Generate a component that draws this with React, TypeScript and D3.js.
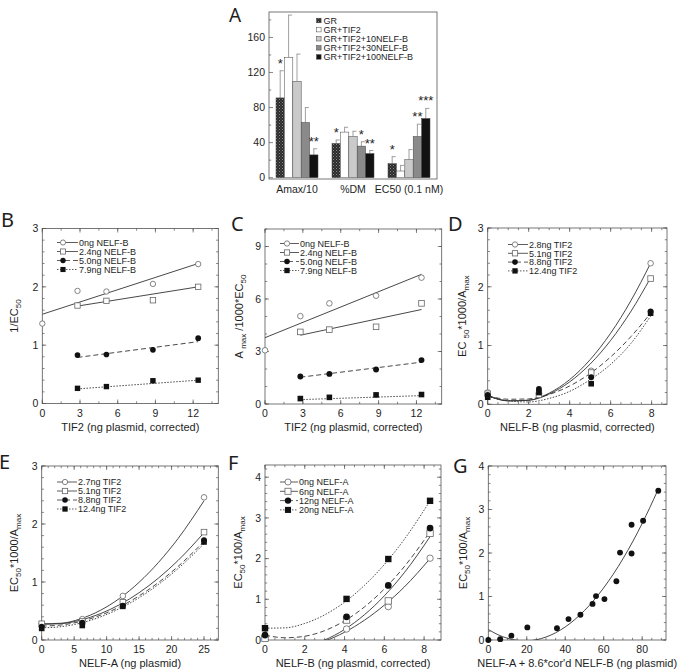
import React from 'react';
import * as d3ns from 'd3';

const d3: any = (d3ns as any).scaleLinear ? d3ns : ((d3ns as any).default || d3ns);

type Pt = [number, number];

// ---------------- Panel A data ----------------
const barGroups = ['Amax/10', '%DM', 'EC50 (0.1 nM)'];
const barSeries = ['GR', 'GR+TIF2', 'GR+TIF2+10NELF-B', 'GR+TIF2+30NELF-B', 'GR+TIF2+100NELF-B'];
const barGR = [91, 39, 16];
const barTIF2 = [137, 52, 7.6];
const bar10 = [110, 47, 20.5];
const bar30 = [63, 36, 47];
const bar100 = [26, 27.5, 67.5];
const errGR = [122, 43, 24];
const errTIF2 = [185.5, 57.5, 14];
const err10 = [141, 53, 32];
const err30 = [80, 41, 61];
const err100 = [33, 31, 79];
const aTicks = [0, 40, 80, 120, 160];
const starGroup = [0, 0, 1, 1, 1, 2, 2, 2];
const starSeries = [0, 4, 0, 3, 4, 0, 3, 4];
const starText = ['*', '**', '*', '*', '**', '*', '**', '***'];

// ---------------- Panel B data ----------------
const bNames = ['0ng NELF-B', '2.4ng NELF-B', '5.0ng NELF-B', '7.9ng NELF-B'];
const b0: Pt[] = [[0, 1.37], [2.8, 1.93], [5.1, 1.92], [8.8, 2.05], [12.4, 2.39]];
const b1: Pt[] = [[2.8, 1.68], [5.1, 1.76], [8.8, 1.77], [12.4, 2.0]];
const b2: Pt[] = [[2.8, 0.83], [5.1, 0.84], [8.8, 0.92], [12.4, 1.12]];
const b3: Pt[] = [[2.8, 0.26], [5.1, 0.29], [8.8, 0.39], [12.4, 0.4]];
const bFit0: Pt[] = [[0, 1.53], [12.4, 2.4]];
const bFit1: Pt[] = [[2.8, 1.67], [12.4, 2.0]];
const bFit2: Pt[] = [[2.8, 0.79], [12.4, 1.06]];
const bFit3: Pt[] = [[2.8, 0.25], [12.4, 0.4]];

// ---------------- Panel C data ----------------
const c0: Pt[] = [[0, 3.07], [2.8, 5.02], [5.1, 5.75], [8.8, 6.19], [12.4, 7.22]];
const c1: Pt[] = [[2.8, 4.12], [5.1, 4.25], [8.8, 4.41], [12.4, 5.75]];
const c2: Pt[] = [[2.8, 1.57], [5.1, 1.72], [8.8, 1.97], [12.4, 2.51]];
const c3: Pt[] = [[2.8, 0.31], [5.1, 0.38], [8.8, 0.52], [12.4, 0.54]];
const cFit0: Pt[] = [[0, 3.79], [12.4, 7.41]];
const cFit1: Pt[] = [[2.8, 3.93], [12.4, 5.4]];
const cFit2: Pt[] = [[2.8, 1.53], [12.4, 2.39]];
const cFit3: Pt[] = [[2.8, 0.25], [12.4, 0.48]];

// ---------------- Panel D data ----------------
const dNames = ['2.8ng TIF2', '5.1ng TIF2', '8.8ng TIF2', '12.4ng TIF2'];
const d0: Pt[] = [[0, 0.2], [2.5, 0.18], [5.05, 0.57], [7.95, 2.4]];
const d1: Pt[] = [[0, 0.18], [2.5, 0.16], [5.05, 0.54], [7.95, 2.14]];
const d2: Pt[] = [[0, 0.16], [2.5, 0.26], [5.05, 0.46], [7.95, 1.58]];
const d3p: Pt[] = [[0, 0.12], [2.5, 0.2], [5.05, 0.35], [7.95, 1.55]];
const dFit0: Pt[] = [[0, 0.157], [1, 0.059], [2, 0.07], [3, 0.19], [4, 0.42], [5, 0.76], [6, 1.21], [7, 1.77], [7.95, 2.4]];
const dFit1: Pt[] = [[0, 0.146], [1, 0.058], [2, 0.068], [3, 0.175], [4, 0.381], [5, 0.685], [6, 1.087], [7, 1.587], [7.95, 2.152]];
const dFit2: Pt[] = [[0, 0.147], [1, 0.086], [2, 0.092], [3, 0.168], [4, 0.312], [5, 0.525], [6, 0.806], [7, 1.156], [7.95, 1.551]];
const dFit3: Pt[] = [[0, 0.13], [1, 0.06], [2, 0.04], [3, 0.1], [4, 0.22], [5, 0.42], [6, 0.68], [7, 1.04], [7.95, 1.5]];

// ---------------- Panel E data ----------------
const eNames = ['2.7ng TIF2', '5.1ng TIF2', '8.8ng TIF2', '12.4ng TIF2'];
const e0: Pt[] = [[0, 0.28], [6.25, 0.36], [12.5, 0.76], [25, 2.46]];
const e1: Pt[] = [[0, 0.28], [6.25, 0.32], [12.5, 0.65], [25, 1.86]];
const e2: Pt[] = [[0, 0.23], [6.25, 0.3], [12.5, 0.59], [25, 1.72]];
const e3: Pt[] = [[0, 0.2], [6.25, 0.25], [12.5, 0.58], [25, 1.69]];
const eFit0: Pt[] = [[0, 0.28], [3, 0.289], [6, 0.366], [9, 0.509], [12, 0.718], [15, 0.995], [18, 1.339], [21, 1.749], [25, 2.4]];
const eFit1: Pt[] = [[0, 0.27], [3, 0.282], [6, 0.343], [9, 0.452], [12, 0.609], [15, 0.815], [18, 1.069], [21, 1.371], [25, 1.85]];
const eFit2: Pt[] = [[0, 0.24], [3, 0.259], [6, 0.32], [9, 0.425], [12, 0.571], [15, 0.761], [18, 0.993], [21, 1.268], [25, 1.7]];
const eFit3: Pt[] = [[0, 0.21], [3, 0.23], [6, 0.292], [9, 0.396], [12, 0.542], [15, 0.729], [18, 0.96], [21, 1.232], [25, 1.66]];

// ---------------- Panel F data ----------------
const fNames = ['0ng NELF-A', '6ng NELF-A', '12ng NELF-A', '20ng NELF-A'];
const f0: Pt[] = [[0, 0.08], [4.1, 0.27], [6.2, 0.82], [8.3, 2.01]];
const f1: Pt[] = [[0, 0.04], [4.1, 0.49], [6.2, 0.96], [8.3, 2.62]];
const f2: Pt[] = [[0, 0.12], [4.1, 0.57], [6.2, 1.34], [8.3, 2.75]];
const f3: Pt[] = [[0, 0.29], [4.1, 1.01], [6.2, 1.99], [8.3, 3.42]];
const fFit0: Pt[] = [[2, -0.17], [3, -0.028], [4, 0.19], [5, 0.486], [6, 0.857], [7, 1.3], [8.3, 2.0]];
const fFit1: Pt[] = [[2, -0.157], [3, 0], [4, 0.259], [5, 0.621], [6, 1.085], [7, 1.651], [8.3, 2.54]];
const fFit2: Pt[] = [[0, 0.12], [1, 0.055], [2, 0.092], [3, 0.23], [4, 0.47], [5, 0.812], [6, 1.255], [7, 1.8], [8.3, 2.66]];
const fFit3: Pt[] = [[0, 0.29], [1, 0.298], [2, 0.407], [3, 0.618], [4, 0.929], [5, 1.342], [6, 1.855], [7, 2.47], [8.3, 3.42]];

// ---------------- Panel G data ----------------
const gPts: Pt[] = [[0, 0], [6.2, 0.02], [12, 0.1], [20.3, 0.29], [35.7, 0.27], [41.7, 0.48], [47.9, 0.58], [54.2, 0.83], [56, 1.01], [60.4, 0.94], [66.6, 1.35], [68.5, 2.01], [74.5, 2.65], [74.5, 1.99], [80.5, 2.74], [88.4, 3.43]];
const gFit: Pt[] = [[0, 0.242], [5, 0.122], [10, 0.039], [15, -0.008], [20, -0.019], [25, 0.006], [30, 0.068], [40, 0.3], [50, 0.677], [60, 1.199], [70, 1.866], [80, 2.678], [88, 3.43]];

const FONT = "'Liberation Sans', Arial, Helvetica, sans-serif";
const LFONT = "'Noto Sans', 'Open Sans', sans-serif";
const INK = '#1e1e1e';
const LEG_FS = 9;

function linear(dom: [number, number], rng: [number, number]): (v: number) => number {
  if (d3 && typeof d3.scaleLinear === 'function') return d3.scaleLinear().domain(dom).range(rng);
  return (v: number) => rng[0] + ((v - dom[0]) / (dom[1] - dom[0])) * (rng[1] - rng[0]);
}

function pathOf(pts: Pt[], x: (v: number) => number, y: (v: number) => number, smooth: boolean): string {
  if (d3 && typeof d3.line === 'function') {
    const l = d3.line().x((d: Pt) => x(d[0])).y((d: Pt) => y(d[1]));
    if (smooth && d3.curveMonotoneX) l.curve(d3.curveMonotoneX);
    return l(pts) || '';
  }
  const P = pts.map(p => [x(p[0]), y(p[1])]);
  if (!smooth || P.length < 3) return 'M' + P.map(p => p.join(',')).join('L');
  let d = `M${P[0][0]},${P[0][1]}`;
  for (let i = 0; i < P.length - 1; i++) {
    const p0 = P[i - 1] || P[i], p1 = P[i], p2 = P[i + 1], p3 = P[i + 2] || p2;
    const c1 = [p1[0] + (p2[0] - p0[0]) / 6, p1[1] + (p2[1] - p0[1]) / 6];
    const c2 = [p2[0] - (p3[0] - p1[0]) / 6, p2[1] - (p3[1] - p1[1]) / 6];
    d += `C${c1[0]},${c1[1]} ${c2[0]},${c2[1]} ${p2[0]},${p2[1]}`;
  }
  return d;
}

interface Ser { name?: string; pts: Pt[]; fit: Pt[]; marker: string; dash: string; }
interface Cfg {
  id: string; letter: string; lx: number; ly: number;
  x0: number; x1: number; y0: number; y1: number;
  xDom: [number, number]; yDom: [number, number];
  xTicks: number[]; xMinorStep: number; yTicks: number[]; yMinorStep: number;
  series: Ser[]; legend?: { x: number; y: number; dy: number; len: number; mk: number };
  xTitle: string; yTitle: React.ReactNode; yTitleX: number; ms: number; smooth: boolean;
}

function steps(a: number, b: number, s: number): number[] {
  const out: number[] = [];
  for (let i = 0; a + i * s <= b + 1e-9; i++) out.push(a + i * s);
  return out;
}

function Marker({ type, x, y, s }: { type: string; x: number; y: number; s: number }) {
  if (type === 'oc') return <circle cx={x} cy={y} r={s} fill="#fff" stroke="#666" strokeWidth={0.8} />;
  if (type === 'os') return <rect x={x - s} y={y - s} width={2 * s} height={2 * s} fill="#fff" stroke="#666" strokeWidth={0.8} />;
  if (type === 'fc') return <circle cx={x} cy={y} r={s * 1.05} fill="#111" />;
  return <rect x={x - s} y={y - s} width={2 * s} height={2 * s} fill="#111" />;
}

function Panel({ c }: { c: Cfg }) {
  const x = linear(c.xDom, [c.x0, c.x1]);
  const y = linear(c.yDom, [c.y1, c.y0]);
  const xMinor = steps(c.xDom[0], c.xDom[1], c.xMinorStep);
  const yMinor = steps(c.yDom[0], c.yDom[1], c.yMinorStep);
  const tick = (v: number, maj: boolean, axis: 'x' | 'y', k: string) => {
    const L = maj ? 4 : 2.2;
    if (axis === 'x') {
      const px = x(v);
      return <g key={k}>
        <line x1={px} x2={px} y1={c.y1} y2={c.y1 - L} stroke="#555" strokeWidth={0.7} />
        <line x1={px} x2={px} y1={c.y0} y2={c.y0 + L} stroke="#555" strokeWidth={0.7} />
      </g>;
    }
    const py = y(v);
    return <g key={k}>
      <line x1={c.x0} x2={c.x0 + L} y1={py} y2={py} stroke="#555" strokeWidth={0.7} />
      <line x1={c.x1} x2={c.x1 - L} y1={py} y2={py} stroke="#555" strokeWidth={0.7} />
    </g>;
  };
  const order = ['oc', 'os', 'fc', 'fs'];
  return (
    <g>
      <defs>
        <clipPath id={'clip' + c.id}><rect x={c.x0} y={c.y0} width={c.x1 - c.x0} height={c.y1 - c.y0} /></clipPath>
      </defs>
      {xMinor.map((v, i) => tick(v, false, 'x', 'xm' + i))}
      {c.xTicks.map((v, i) => tick(v, true, 'x', 'xM' + i))}
      {yMinor.map((v, i) => tick(v, false, 'y', 'ym' + i))}
      {c.yTicks.map((v, i) => tick(v, true, 'y', 'yM' + i))}
      <rect x={c.x0} y={c.y0} width={c.x1 - c.x0} height={c.y1 - c.y0} fill="none" stroke="#555" strokeWidth={0.8} />
      {c.xTicks.map((v, i) => (
        <text key={'xl' + i} x={x(v)} y={c.y1 + 13} textAnchor="middle" fontSize={10.5} fontFamily={FONT} fill={INK}>{v}</text>
      ))}
      {c.yTicks.map((v, i) => (
        <text key={'yl' + i} x={c.x0 - 4} y={y(v) + 3.8} textAnchor="end" fontSize={10.5} fontFamily={FONT} fill={INK}>{v}</text>
      ))}
      <g clipPath={`url(#clip${c.id})`}>
        {c.series.map((s, i) => (
          <path key={'f' + i} d={pathOf(s.fit, x, y, c.smooth)} fill="none" stroke="#333" strokeWidth={0.9} strokeDasharray={s.dash} />
        ))}
      </g>
      {order.map(m => c.series.filter(s => s.marker === m).map((s, i) =>
        s.pts.map((p, j) => <Marker key={m + i + '_' + j} type={s.marker} x={x(p[0])} y={y(p[1])} s={c.ms} />)
      ))}
      {c.legend && c.series.map((s, i) => {
        const L = c.legend!;
        const yy = L.y + i * L.dy;
        return <g key={'lg' + i}>
          <line x1={L.x} x2={L.x + L.len} y1={yy} y2={yy} stroke="#333" strokeWidth={0.8} strokeDasharray={s.dash} />
          <Marker type={s.marker} x={L.x + L.mk} y={yy} s={c.ms * 0.95} />
          <text x={L.x + L.len + 1} y={yy + 3.2} fontSize={LEG_FS} fontFamily={FONT} fill={INK}>{s.name}</text>
        </g>;
      })}
      <text x={(c.x0 + c.x1) / 2} y={c.y1 + 27} textAnchor="middle" fontSize={11} fontFamily={FONT} fill={INK}>{c.xTitle}</text>
      <text transform={`translate(${c.yTitleX},${(c.y0 + c.y1) / 2}) rotate(-90)`} textAnchor="middle" fontSize={11} fontFamily={FONT} fill={INK}>{c.yTitle}</text>
      <text x={c.lx} y={c.ly} fontSize={20} fontFamily={LFONT} fill={INK}>{c.letter}</text>
    </g>
  );
}

const sub = (t: string) => <tspan fontSize={8} dy={2.5}>{t}</tspan>;
const up = (t: string) => <tspan dy={-2.5}>{t}</tspan>;

function BarPanel() {
  const x0 = 269, x1 = 437, yTop = 12, yBot = 179;
  const step = (x1 - x0) / barGroups.length;
  const bandW = step * 0.75;
  const gx = linear([0, barGroups.length - 1], [x0 + 0.125 * step, x0 + 0.125 * step + (barGroups.length - 1) * step]);
  const sx = linear([0, barSeries.length], [0, bandW]);
  const subW = bandW / barSeries.length;
  const y = linear([-1.5, 189], [yBot, yTop]);
  const vals = [barGR, barTIF2, bar10, bar30, bar100];
  const errs = [errGR, errTIF2, err10, err30, err100];
  const fills = ['url(#grPat)', '#ffffff', '#cacaca', '#8a8a8a', '#121212'];
  const minor = steps(0, 180, 20);
  return (
    <g>
      <defs>
        <pattern id="grPat" width={3} height={3} patternUnits="userSpaceOnUse">
          <rect width={3} height={3} fill="#2b2b2b" />
          <rect x={0} y={0} width={1} height={1} fill="#8a8a8a" />
          <rect x={1.5} y={1.5} width={1} height={1} fill="#6a6a6a" />
        </pattern>
      </defs>
      {minor.map((v, i) => (
        <line key={'am' + i} x1={x0} x2={x0 + (v % 40 === 0 ? 4 : 2.2)} y1={y(v)} y2={y(v)} stroke="#555" strokeWidth={0.7} />
      ))}
      {barSeries.map((s, si) => barGroups.map((g, gi) => {
        const bx = gx(gi) + sx(si);
        const cx = bx + subW / 2;
        return <g key={s + g}>
          <line x1={cx} x2={cx} y1={y(vals[si][gi])} y2={y(errs[si][gi])} stroke="#888" strokeWidth={0.8} />
          <line x1={cx - 0.5} x2={cx + 3.5} y1={y(errs[si][gi])} y2={y(errs[si][gi])} stroke="#888" strokeWidth={0.8} />
          <rect x={bx} y={y(vals[si][gi])} width={subW} height={y(0) - y(vals[si][gi])} fill={fills[si]} stroke="#444" strokeWidth={0.5} />
        </g>;
      }))}
      <rect x={x0} y={yTop} width={x1 - x0} height={yBot - yTop} fill="none" stroke="#555" strokeWidth={0.8} />
      {aTicks.map((v, i) => (
        <text key={'at' + i} x={x0 - 4} y={y(v) + 3.8} textAnchor="end" fontSize={10.5} fontFamily={FONT} fill={INK}>{v}</text>
      ))}
      {barGroups.map((g, i) => (
        <text key={'ag' + i} x={gx(i) + bandW / 2} y={193} textAnchor="middle" fontSize={10.5} fontFamily={FONT} fill={INK}>{g}</text>
      ))}
      {starText.map((t, i) => {
        const cx = gx(starGroup[i]) + sx(starSeries[i]) + subW / 2;
        const top = y(errs[starSeries[i]][starGroup[i]]);
        return <text key={'st' + i} x={cx} y={top - 3} textAnchor="middle" fontSize={13} fontFamily={FONT} fill={INK}>{t}</text>;
      })}
      {barSeries.map((s, i) => (
        <g key={'al' + i}>
          <rect x={316.5} y={18.2 + i * 9.1} width={4.6} height={4.6} fill={fills[i]} stroke="#444" strokeWidth={0.5} />
          <text x={323.5} y={23.8 + i * 9.1} fontSize={9} fontFamily={FONT} fill={INK}>{s}</text>
        </g>
      ))}
      <text x={229} y={22} fontSize={19} fontFamily={LFONT} fill={INK}>A</text>
    </g>
  );
}

const panels: Cfg[] = [
  {
    id: 'B', letter: 'B', lx: 1, ly: 227, x0: 42.3, x1: 218.3, y0: 228.5, y1: 403.5,
    xDom: [0, 14], yDom: [0, 3], xTicks: [0, 3, 6, 9, 12], xMinorStep: 1.5, yTicks: [0, 1, 2, 3], yMinorStep: 0.2,
    series: [
      { name: bNames[0], pts: b0, fit: bFit0, marker: 'oc', dash: '' },
      { name: bNames[1], pts: b1, fit: bFit1, marker: 'os', dash: '' },
      { name: bNames[2], pts: b2, fit: bFit2, marker: 'fc', dash: '5,3' },
      { name: bNames[3], pts: b3, fit: bFit3, marker: 'fs', dash: '1.5,1.5' },
    ],
    legend: { x: 57, y: 242.5, dy: 9, len: 21, mk: 6 },
    xTitle: 'TIF2 (ng plasmid, corrected)', yTitle: <>1/EC{sub('50')}</>, yTitleX: 18, ms: 2.7, smooth: false,
  },
  {
    id: 'C', letter: 'C', lx: 231, ly: 231, x0: 265, x1: 441.7, y0: 229, y1: 404,
    xDom: [0, 14], yDom: [0, 10], xTicks: [0, 3, 6, 9, 12], xMinorStep: 1.5, yTicks: [0, 3, 6, 9], yMinorStep: 1,
    series: [
      { name: bNames[0], pts: c0, fit: cFit0, marker: 'oc', dash: '' },
      { name: bNames[1], pts: c1, fit: cFit1, marker: 'os', dash: '' },
      { name: bNames[2], pts: c2, fit: cFit2, marker: 'fc', dash: '5,3' },
      { name: bNames[3], pts: c3, fit: cFit3, marker: 'fs', dash: '1.5,1.5' },
    ],
    legend: { x: 280, y: 243.5, dy: 9, len: 19, mk: 7 },
    xTitle: 'TIF2 (ng plasmid, corrected)', yTitle: <>A{sub(' max')}{up(' /1000*EC')}{sub('50')}</>, yTitleX: 243, ms: 2.8, smooth: false,
  },
  {
    id: 'D', letter: 'D', lx: 448, ly: 231, x0: 487.7, x1: 667, y0: 228, y1: 404.3,
    xDom: [0, 8.75], yDom: [0, 3], xTicks: [0, 2, 4, 6, 8], xMinorStep: 0.5, yTicks: [0, 1, 2, 3], yMinorStep: 0.2,
    series: [
      { name: dNames[0], pts: d0, fit: dFit0, marker: 'oc', dash: '' },
      { name: dNames[1], pts: d1, fit: dFit1, marker: 'os', dash: '' },
      { name: dNames[2], pts: d2, fit: dFit2, marker: 'fc', dash: '5,3' },
      { name: dNames[3], pts: d3p, fit: dFit3, marker: 'fs', dash: '1.5,1.5' },
    ],
    legend: { x: 508, y: 244.5, dy: 8.8, len: 20, mk: 7 },
    xTitle: 'NELF-B (ng plasmid, corrected)', yTitle: <>EC {sub('50')}{up('*1000/A')}{sub('max')}</>, yTitleX: 466, ms: 2.8, smooth: true,
  },
  {
    id: 'E', letter: 'E', lx: -1, ly: 469, x0: 41.7, x1: 218.3, y0: 466, y1: 640,
    xDom: [0, 27.2], yDom: [0, 3], xTicks: [0, 5, 10, 15, 20, 25], xMinorStep: 1, yTicks: [0, 1, 2, 3], yMinorStep: 0.2,
    series: [
      { name: eNames[0], pts: e0, fit: eFit0, marker: 'oc', dash: '' },
      { name: eNames[1], pts: e1, fit: eFit1, marker: 'os', dash: '' },
      { name: eNames[2], pts: e2, fit: eFit2, marker: 'fc', dash: '5,3' },
      { name: eNames[3], pts: e3, fit: eFit3, marker: 'fs', dash: '1.5,1.5' },
    ],
    legend: { x: 57, y: 482, dy: 9, len: 20, mk: 8 },
    xTitle: 'NELF-A (ng plasmid)', yTitle: <>EC{sub('50')}{up('*1000/A')}{sub('max')}</>, yTitleX: 18, ms: 2.8, smooth: true,
  },
  {
    id: 'F', letter: 'F', lx: 228, ly: 470, x0: 265, x1: 441, y0: 465, y1: 640,
    xDom: [0, 8.85], yDom: [0, 4.3], xTicks: [0, 2, 4, 6, 8], xMinorStep: 0.5, yTicks: [0, 1, 2, 3, 4], yMinorStep: 0.2,
    series: [
      { name: fNames[0], pts: f0, fit: fFit0, marker: 'oc', dash: '' },
      { name: fNames[1], pts: f1, fit: fFit1, marker: 'os', dash: '' },
      { name: fNames[2], pts: f2, fit: fFit2, marker: 'fc', dash: '5,3' },
      { name: fNames[3], pts: f3, fit: fFit3, marker: 'fs', dash: '1.5,1.5' },
    ],
    legend: { x: 280, y: 482, dy: 9.3, len: 18, mk: 8 },
    xTitle: 'NELF-B (ng plasmid, corrected)', yTitle: <>EC{sub('50')}{up('*100/A')}{sub('max')}</>, yTitleX: 242, ms: 3.2, smooth: true,
  },
  {
    id: 'G', letter: 'G', lx: 453, ly: 473, x0: 488.3, x1: 666, y0: 466, y1: 640,
    xDom: [0, 92.4], yDom: [0, 4], xTicks: [0, 20, 40, 60, 80], xMinorStep: 5, yTicks: [0, 1, 2, 3, 4], yMinorStep: 0.2,
    series: [
      { pts: gPts, fit: gFit, marker: 'fc', dash: '' },
    ],
    xTitle: "NELF-A + 8.6*cor'd NELF-B (ng plasmid)", yTitle: <>EC{sub('50')}{up('*100/A')}{sub('max')}</>, yTitleX: 467, ms: 2.8, smooth: true,
  },
];

export default function App() {
  return (
    <svg width={683} height={671} viewBox="0 0 683 671" style={{ position: 'absolute', left: 0, top: 0, background: '#fff' }}>
      <rect width={683} height={671} fill="#fff" />
      <BarPanel />
      {panels.map(p => <Panel key={p.id} c={p} />)}
    </svg>
  );
}
